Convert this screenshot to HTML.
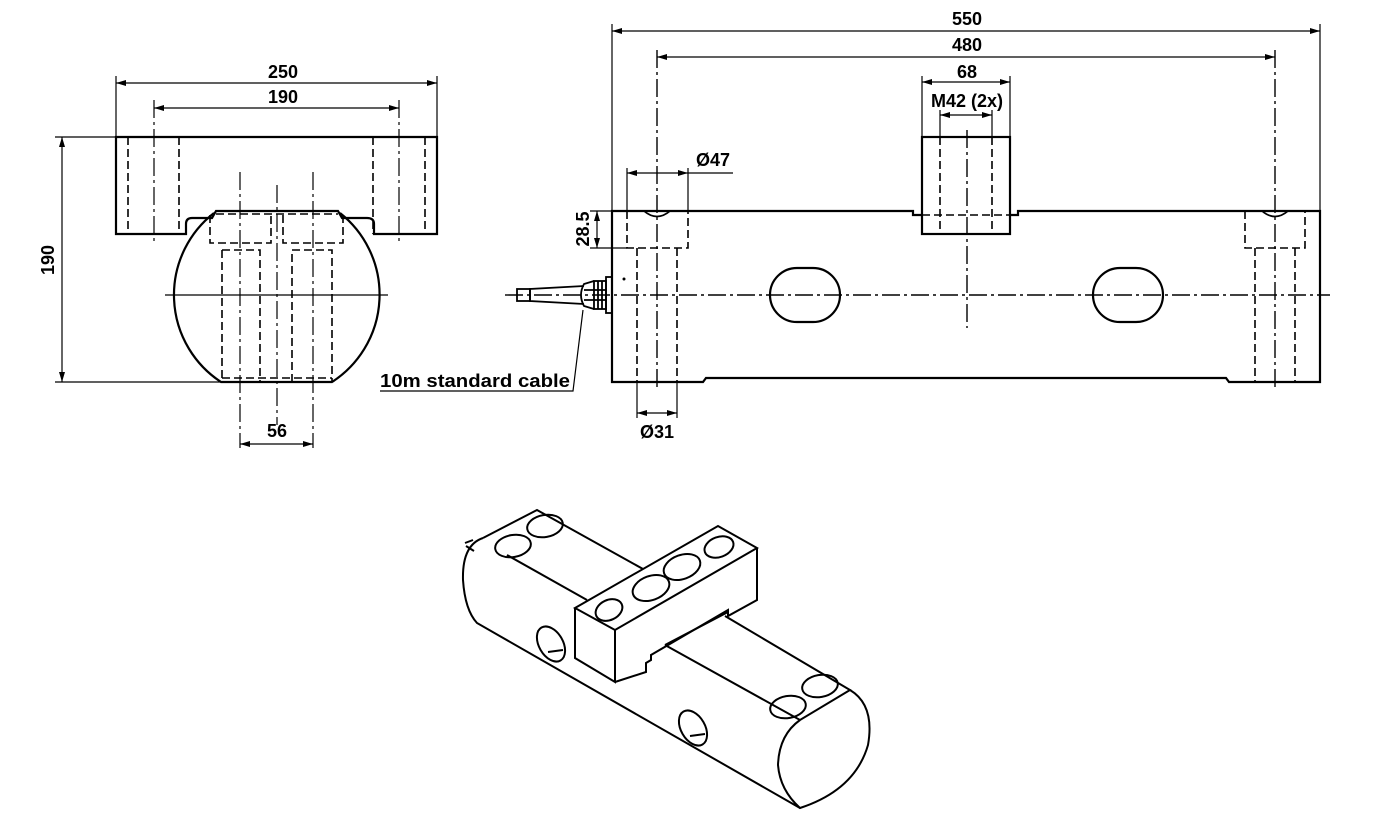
<!DOCTYPE html>
<html><head><meta charset="utf-8"><style>
html,body{margin:0;padding:0;background:#fff;}
svg{display:block;}
text{font-family:"Liberation Sans",Arial,sans-serif;font-weight:bold;font-size:18px;fill:#000;}
</style></head><body>
<svg width="1385" height="827" viewBox="0 0 1385 827" xmlns="http://www.w3.org/2000/svg">
<defs>
<marker id="a" viewBox="0 0 10 6" refX="10" refY="3" markerWidth="10" markerHeight="6" orient="auto-start-reverse" markerUnits="userSpaceOnUse"><path d="M0,0 L10,3 L0,6 z" fill="#000"/></marker>
</defs>
<g fill="none" stroke="#000">
<g stroke-width="1.2">
<line x1="116" y1="76" x2="116" y2="137"/><line x1="437" y1="76" x2="437" y2="137"/>
<line x1="116" y1="83" x2="437" y2="83" marker-start="url(#a)" marker-end="url(#a)"/>
<line x1="154" y1="108" x2="399" y2="108" marker-start="url(#a)" marker-end="url(#a)"/>
<line x1="55" y1="137" x2="116" y2="137"/><line x1="55" y1="382" x2="221" y2="382"/>
<line x1="62" y1="137" x2="62" y2="382" marker-start="url(#a)" marker-end="url(#a)"/>
<line x1="240" y1="444" x2="313" y2="444" marker-start="url(#a)" marker-end="url(#a)"/>
<line x1="165" y1="295" x2="388" y2="295"/>
</g>
<g stroke-width="1.2" stroke-dasharray="18,4,3,4">
<line x1="154" y1="100" x2="154" y2="242"/><line x1="399" y1="100" x2="399" y2="242"/>
<line x1="240" y1="172" x2="240" y2="448"/><line x1="313" y1="172" x2="313" y2="448"/>
<line x1="277" y1="185" x2="277" y2="425"/>
</g>
<path stroke-width="2.2" d="M116,137 H437 V234 H374 V224 Q374,218 367,218 H342 L338,211 H216 L212,218 H192 Q186,218 186,224 V234 H116 Z"/>
<path stroke-width="2.2" d="M214,213 A104,104 0 0 0 221,382 H332 A104,104 0 0 0 340,213"/>
<g stroke-width="1.6" stroke-dasharray="8,4">
<line x1="128" y1="137" x2="128" y2="234"/><line x1="179" y1="137" x2="179" y2="234"/>
<line x1="373" y1="137" x2="373" y2="234"/><line x1="425" y1="137" x2="425" y2="234"/>
<line x1="216" y1="214" x2="338" y2="214"/>
<path d="M210,215 V243 H271 V215"/><path d="M283,215 V243 H343 V215"/>
<path d="M222,250 H260 V382"/><path d="M222,250 V382"/>
<path d="M292,382 V250 H332 V382"/>
<line x1="222" y1="378" x2="332" y2="378"/>
</g>
<g stroke-width="1.2">
<line x1="612" y1="24" x2="612" y2="211"/><line x1="1320" y1="24" x2="1320" y2="211"/>
<line x1="612" y1="31" x2="1320" y2="31" marker-start="url(#a)" marker-end="url(#a)"/>
<line x1="657" y1="57" x2="1275" y2="57" marker-start="url(#a)" marker-end="url(#a)"/>
<line x1="922" y1="76" x2="922" y2="137"/><line x1="1010" y1="76" x2="1010" y2="137"/>
<line x1="922" y1="82" x2="1010" y2="82" marker-start="url(#a)" marker-end="url(#a)"/>
<line x1="940" y1="110" x2="940" y2="137"/><line x1="992" y1="110" x2="992" y2="137"/>
<line x1="940" y1="115" x2="992" y2="115" marker-start="url(#a)" marker-end="url(#a)"/>
<line x1="627" y1="168" x2="627" y2="211"/><line x1="688" y1="168" x2="688" y2="211"/>
<line x1="627" y1="173" x2="688" y2="173" marker-start="url(#a)" marker-end="url(#a)"/>
<line x1="688" y1="173" x2="733" y2="173"/>
<line x1="590" y1="211" x2="612" y2="211"/><line x1="590" y1="248" x2="627" y2="248"/>
<line x1="597" y1="211" x2="597" y2="248" marker-start="url(#a)" marker-end="url(#a)"/>
<line x1="637" y1="382" x2="637" y2="418"/><line x1="677" y1="382" x2="677" y2="418"/>
<line x1="637" y1="413" x2="677" y2="413" marker-start="url(#a)" marker-end="url(#a)"/>
<polyline points="583,310 573,391 380,391"/>
</g>
<g stroke-width="1.4" stroke-dasharray="18,4,3,4">
<line x1="505" y1="295" x2="1330" y2="295"/>
<line x1="657" y1="50" x2="657" y2="390"/><line x1="1275" y1="50" x2="1275" y2="390"/>
<line x1="967" y1="130" x2="967" y2="328"/>
</g>
<path stroke-width="2.2" d="M922,215 H913 V211 H612 V382 H703 L706,378 H1226 L1229,382 H1320 V211 H1018 V215 H1010"/>
<rect x="922" y="137" width="88" height="97" stroke-width="2.2"/>
<rect x="770" y="268" width="70" height="54" rx="27" stroke-width="2.2"/>
<rect x="1093" y="268" width="70" height="54" rx="27" stroke-width="2.2"/>
<path stroke-width="1.8" d="M644,211 Q657,222 670,211 M1262,211 Q1275,222 1288,211"/>
<g stroke-width="1.6" stroke-dasharray="8,4">
<line x1="940" y1="137" x2="940" y2="234"/><line x1="992" y1="137" x2="992" y2="234"/>
<line x1="922" y1="215" x2="1010" y2="215"/>
<path d="M627,211 V248 H688 V211"/><path d="M637,248 V382 M677,248 V382"/>
<path d="M1245,211 V248 H1305 V211"/><path d="M1255,248 V382 M1295,248 V382"/>
</g>
<g stroke-width="1.8">
<rect x="606" y="277" width="6" height="36"/>
<rect x="594" y="281" width="12" height="28"/>
<path d="M594,281 L584,284 Q578,295 584,306 L594,309"/>
<line x1="598" y1="281" x2="598" y2="309"/><line x1="602" y1="281" x2="602" y2="309"/>
<line x1="584" y1="290" x2="606" y2="290"/><line x1="584" y1="300" x2="606" y2="300"/>
<path d="M584,286 L530,289 V301 L584,304"/>
<rect x="517" y="289" width="13" height="12"/>
</g>
<circle cx="624" cy="279" r="1" fill="#000"/>
<g stroke-width="2">
<path d="M483,538 L537,510 L643,569"/>
<path d="M483,538 Q462,545 463,580 Q465,610 477,623 L800,808"/>
<path d="M507,555 L587,600"/>
<path d="M575,608 L718,526 L757,548 L615,630 Z"/>
<path d="M575,608 V658 L615,682 V630"/>
<path d="M757,548 V600 L728,616 V610 L651,655 V660 L646,663 V672 L615,682"/>
<path d="M728,612 L665,645"/>
<path d="M725,616 L850,690 L800,720 L665,645"/>
<path d="M850,690 Q875,705 868,745 Q855,790 800,808 Q780,790 778,765 Q779,735 800,720"/>
<ellipse cx="609" cy="610" rx="14" ry="10" transform="rotate(-25 609 610)"/>
<ellipse cx="651" cy="588" rx="19" ry="12" transform="rotate(-20 651 588)"/>
<ellipse cx="682" cy="567" rx="19" ry="12" transform="rotate(-20 682 567)"/>
<ellipse cx="719" cy="547" rx="15" ry="10" transform="rotate(-20 719 547)"/>
<ellipse cx="513" cy="546" rx="18" ry="11" transform="rotate(-10 513 546)"/>
<ellipse cx="545" cy="526" rx="18" ry="11" transform="rotate(-10 545 526)"/>
<ellipse cx="788" cy="707" rx="18" ry="11" transform="rotate(-10 788 707)"/>
<ellipse cx="820" cy="686" rx="18" ry="11" transform="rotate(-10 820 686)"/>
<ellipse cx="551" cy="644" rx="12" ry="19" transform="rotate(-30 551 644)"/>
<ellipse cx="693" cy="728" rx="12" ry="19" transform="rotate(-30 693 728)"/>
<path d="M548,652 L563,650 M690,736 L705,734"/>
<path d="M465,543 L473,540 M466,546 L474,551"/>
</g>
</g>
<text x="283" y="78" text-anchor="middle">250</text>
<text x="283" y="103" text-anchor="middle">190</text>
<text x="0" y="0" text-anchor="middle" transform="translate(54,260) rotate(-90)">190</text>
<text x="277" y="437" text-anchor="middle">56</text>
<text x="967" y="25" text-anchor="middle">550</text>
<text x="967" y="51" text-anchor="middle">480</text>
<text x="967" y="78" text-anchor="middle">68</text>
<text x="967" y="107" text-anchor="middle">M42 (2x)</text>
<text x="713" y="166" text-anchor="middle">Ø47</text>
<text x="0" y="0" text-anchor="middle" transform="translate(589,229) rotate(-90)">28.5</text>
<text x="657" y="438" text-anchor="middle">Ø31</text>
<text x="380" y="387" textLength="190" lengthAdjust="spacingAndGlyphs">10m standard cable</text>
</svg>
</body></html>
